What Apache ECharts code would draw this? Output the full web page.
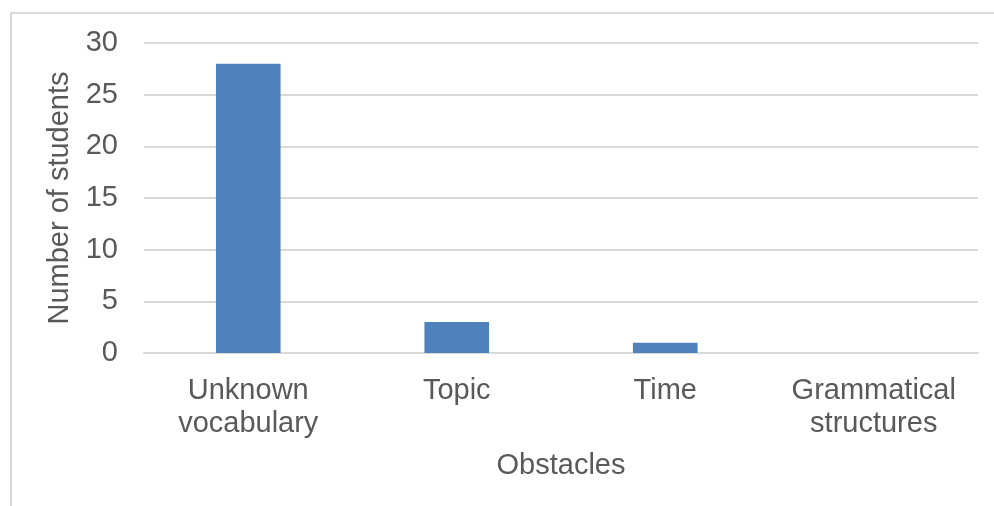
<!DOCTYPE html>
<html>
<head>
<meta charset="utf-8">
<script src="https://cdn.jsdelivr.net/npm/echarts@6/dist/echarts.min.js"></script>
<style>
  html, body { margin: 0; padding: 0; background: #fff; }
  #chart { width: 994px; height: 506px; }
</style>
</head>
<body>
<div id="chart"></div>
<script>
const categories = ['Unknown\nvocabulary', 'Topic', 'Time', 'Grammatical\nstructures'];
const students = [28, 3, 1, 0];
const yTicks = { min: 0, max: 30, interval: 5 };

const textColor = '#595959';
const fontFamily = '"Liberation Sans", Arial, sans-serif';
const fontSize = 29;

const chart = echarts.init(document.getElementById('chart'), null, { renderer: 'canvas' });
chart.setOption({
  backgroundColor: '#ffffff',
  animation: false,
  graphic: [{
    type: 'rect',
    shape: { x: 11, y: 13, width: 1000, height: 600 },
    style: { fill: 'none', stroke: '#d9d9d9', lineWidth: 2 },
    silent: true
  }],
  grid: { left: 144, right: 16, top: 43, bottom: 153 },
  xAxis: {
    type: 'category',
    data: categories,
    name: 'Obstacles',
    nameLocation: 'middle',
    nameGap: 98,
    nameTextStyle: { color: textColor, fontSize, fontFamily },
    axisLine: { show: true, lineStyle: { color: '#d9d9d9', width: 2 } },
    axisTick: { show: false },
    axisLabel: { color: textColor, fontSize, fontFamily, lineHeight: 33, margin: 21, interval: 0 }
  },
  yAxis: {
    type: 'value',
    min: yTicks.min,
    max: yTicks.max,
    interval: yTicks.interval,
    name: 'Number of students',
    nameLocation: 'middle',
    nameGap: 65,
    nameTextStyle: { color: textColor, fontSize, fontFamily },
    axisLine: { show: false },
    axisTick: { show: false },
    axisLabel: { color: textColor, fontSize, fontFamily, margin: 26 },
    splitLine: { lineStyle: { color: '#d9d9d9', width: 2 } }
  },
  series: [{
    type: 'bar',
    data: students,
    barWidth: '31%',
    itemStyle: { color: '#4f81bd' }
  }]
});
</script>
</body>
</html>
